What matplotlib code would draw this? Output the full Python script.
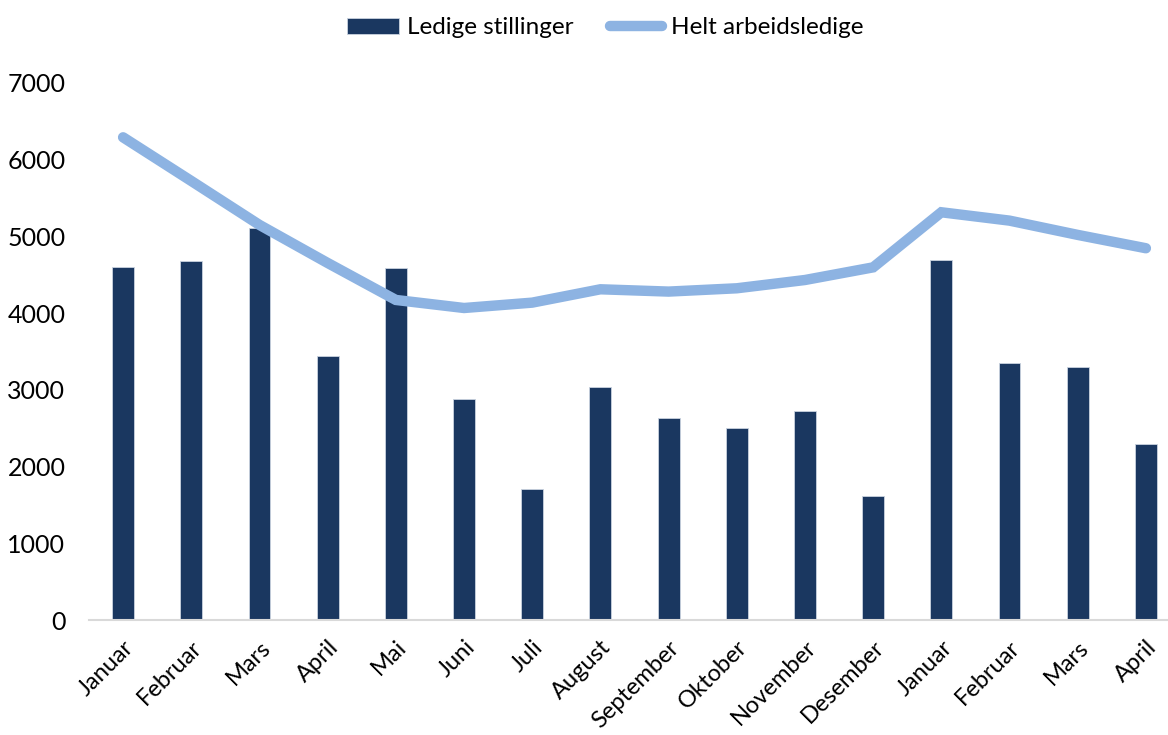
import matplotlib
matplotlib.use("Agg")
import matplotlib.pyplot as plt
import numpy as np

months = ["Januar", "Februar", "Mars", "April", "Mai", "Juni", "Juli", "August",
          "September", "Oktober", "November", "Desember", "Januar", "Februar", "Mars", "April"]
ledige_stillinger = [4597, 4684, 5106, 3446, 4584, 2880, 1710, 3037,
                     2629, 2507, 2725, 1621, 4693, 3350, 3294, 2299]
helt_arbeidsledige = [6292, 5723, 5150, 4654, 4172, 4067, 4137, 4311,
                      4281, 4324, 4432, 4597, 5315, 5206, 5020, 4846]
yticks = [0, 1000, 2000, 3000, 4000, 5000, 6000, 7000]

plt.rcParams['font.family'] = ['Lato', 'DejaVu Sans']

fig = plt.figure(figsize=(11.68, 7.35), dpi=100)
ax = fig.add_axes([89/1168, 115/735, (1180-89)/1168, 537/735])

x = np.arange(len(months))
bars = ax.bar(x, ledige_stillinger, width=0.32, color="#1A3760",
              edgecolor="#C9D3E0", linewidth=0.6, label="Ledige stillinger", zorder=2)
line, = ax.plot(x, helt_arbeidsledige, color="#8DB3E2", linewidth=7.5,
                solid_capstyle="round", solid_joinstyle="miter",
                label="Helt arbeidsledige", zorder=3)

ax.set_xlim(-0.5, len(months) - 0.5)
ax.set_ylim(0, 7000)
ax.set_yticks(yticks)
ax.set_yticklabels([str(v) for v in yticks], fontsize=18)
ax.set_xticks(x)
ax.set_xticklabels(months, rotation=45, ha="right", rotation_mode="anchor", fontsize=17)
ax.tick_params(axis="both", length=0)
ax.tick_params(axis="y", pad=17)
ax.tick_params(axis="x", pad=12)

for s in ["top", "right", "left"]:
    ax.spines[s].set_visible(False)
ax.spines["bottom"].set_color("#D9D9D9")
ax.spines["bottom"].set_linewidth(1.5)

fig.legend(handles=[bars, line], labels=["Ledige stillinger", "Helt arbeidsledige"],
           loc="center", bbox_to_anchor=(605/1168, 1 - 28/735), ncol=2, frameon=False,
           fontsize=17.5, handlelength=2.15, handleheight=0.6, columnspacing=1.5,
           handletextpad=0.33)

fig.savefig("out.png", dpi=100)
